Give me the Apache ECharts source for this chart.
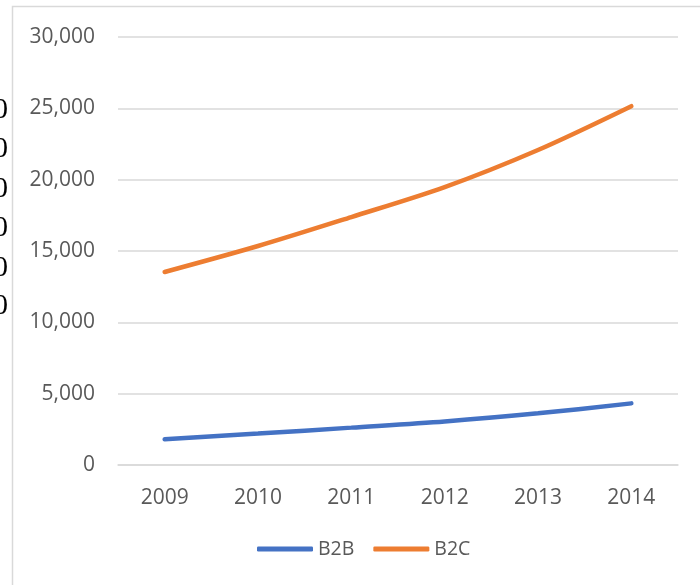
<!DOCTYPE html>
<html>
<head>
<meta charset="utf-8">
<script src="https://cdn.jsdelivr.net/npm/echarts@6/dist/echarts.min.js"></script>
<style>
  html, body { margin: 0; padding: 0; background: #fff; }
  #chart { width: 700px; height: 585px; }
</style>
</head>
<body>
<div id="chart"></div>
<script>
// Years on the category axis
const years = ['2009', '2010', '2011', '2012', '2013', '2014'];
// Series values
const b2b = [1800, 2200, 2620, 3050, 3620, 4320];
const b2c = [13530, 15350, 17380, 19480, 22080, 25150];
// Value axis range
const yMin = 0;
const yMax = 30000;
const yStep = 5000;
// Clipped digits showing at the left edge of the frame
const edgeDigits = ['0', '0', '0', '0', '0', '0'];
const edgeDigitTops = [110, 149, 189, 228, 268, 306];

const chart = echarts.init(document.getElementById('chart'), null, { renderer: 'canvas' });

const fontFamily = '"Open Sans", "Noto Sans", sans-serif';

const graphics = [
  {
    type: 'rect',
    shape: { x: 12.5, y: 6.5, width: 900, height: 800 },
    style: { fill: 'none', stroke: '#d9d9d9', lineWidth: 1.5 },
    silent: true,
    z: 0
  }
];
edgeDigits.forEach((d, i) => {
  graphics.push({
    type: 'text',
    x: 8,
    y: edgeDigitTops[i],
    style: {
      text: d,
      fill: '#000',
      font: '29px "Liberation Serif", "DejaVu Serif", serif',
      textAlign: 'right',
      textVerticalAlign: 'middle'
    },
    silent: true
  });
});

chart.setOption({
  animation: false,
  backgroundColor: '#fff',
  graphic: graphics,
  grid: { left: 118, right: 22, top: 37, bottom: 120 },
  legend: {
    bottom: 21,
    left: 252,
    itemWidth: 56,
    itemHeight: 5,
    itemGap: 19,
    icon: 'roundRect',
    textStyle: { color: '#595959', fontSize: 19.5, fontFamily: fontFamily },
    data: ['B2B', 'B2C']
  },
  xAxis: {
    type: 'category',
    data: years,
    boundaryGap: true,
    axisLine: { lineStyle: { color: '#d9d9d9', width: 1.5 } },
    axisTick: { show: false },
    axisLabel: { color: '#595959', fontSize: 21, fontFamily: fontFamily, margin: 23 }
  },
  yAxis: {
    type: 'value',
    min: yMin,
    max: yMax,
    interval: yStep,
    axisLine: { show: false },
    axisTick: { show: false },
    splitLine: { lineStyle: { color: '#d9d9d9', width: 1.5 } },
    axisLabel: {
      color: '#595959',
      fontSize: 21,
      fontFamily: fontFamily,
      margin: 23,
      formatter: v => v.toLocaleString('en-US')
    }
  },
  series: [
    {
      name: 'B2B',
      type: 'line',
      data: b2b,
      smooth: 0.3,
      showSymbol: false,
      symbol: 'none',
      lineStyle: { color: '#4472C4', width: 4.5, cap: 'round' },
      itemStyle: { color: '#4472C4' }
    },
    {
      name: 'B2C',
      type: 'line',
      data: b2c,
      smooth: 0.3,
      showSymbol: false,
      symbol: 'none',
      lineStyle: { color: '#ED7D31', width: 4.5, cap: 'round' },
      itemStyle: { color: '#ED7D31' }
    }
  ]
});
</script>
</body>
</html>
